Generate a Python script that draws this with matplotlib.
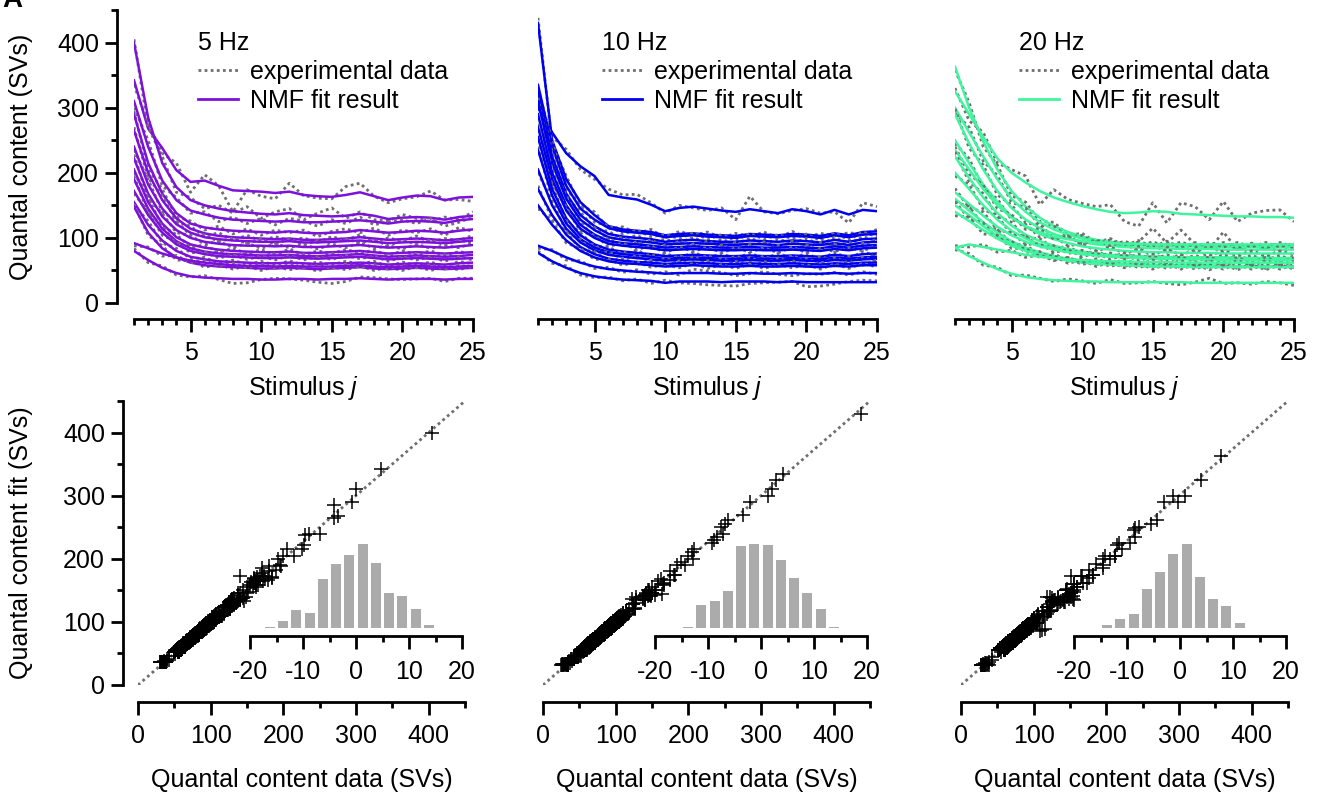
import matplotlib
matplotlib.use('Agg')
import matplotlib.pyplot as plt
from matplotlib.lines import Line2D
from matplotlib.ticker import MultipleLocator

plt.rcParams['font.family'] = ['Liberation Sans', 'DejaVu Sans']
plt.rcParams['mathtext.fontset'] = 'custom'
plt.rcParams['mathtext.rm'] = 'Liberation Sans'
plt.rcParams['mathtext.it'] = 'Liberation Sans:italic'
plt.rcParams['axes.unicode_minus'] = False

# ---- data ----
stim = list(range(1, 26))
freqs = ['5 Hz', '10 Hz', '20 Hz']
colors = ['#7D10DC', '#0000F0', '#3FF59E']

# NMF fit result per synapse, 5 Hz
fit_5hz = [
    [342, 268, 238, 204, 186, 188, 180, 173, 172, 171, 169, 171, 166, 164, 163, 166, 170, 164, 158, 162, 165, 164, 158, 162, 163],
    [400, 285, 215, 178, 158, 150, 145, 141, 139, 137, 136, 138, 135, 134, 133, 134, 137, 134, 129, 131, 132, 131, 128, 132, 134],
    [310, 240, 188, 158, 142, 136, 131, 128, 127, 126, 125, 126, 124, 124, 125, 126, 127, 125, 122, 125, 126, 125, 123, 127, 129],
    [290, 215, 168, 138, 122, 116, 113, 111, 110, 109, 108, 110, 108, 107, 108, 109, 112, 110, 108, 109, 111, 110, 108, 111, 113],
    [265, 200, 158, 130, 114, 107, 103, 101, 100, 99, 98, 99, 97, 97, 98, 99, 101, 99, 97, 98, 99, 98, 96, 98, 100],
    [240, 182, 145, 121, 108, 101, 98, 96, 95, 94, 94, 95, 93, 93, 94, 95, 96, 94, 92, 93, 94, 93, 92, 94, 96],
    [222, 168, 133, 112, 100, 94, 91, 89, 88, 88, 87, 88, 86, 86, 87, 88, 89, 87, 85, 86, 87, 86, 85, 87, 89],
    [205, 155, 122, 101, 90, 85, 82, 80, 79, 78, 78, 79, 77, 77, 78, 79, 80, 78, 76, 77, 78, 77, 76, 77, 78],
    [190, 145, 114, 95, 84, 79, 76, 75, 74, 73, 73, 74, 72, 72, 73, 74, 75, 73, 71, 72, 73, 72, 71, 72, 74],
    [172, 135, 108, 90, 80, 75, 72, 71, 70, 69, 69, 70, 69, 68, 69, 70, 71, 69, 67, 68, 69, 68, 67, 68, 69],
    [155, 120, 96, 80, 71, 67, 64, 63, 62, 61, 61, 62, 61, 60, 61, 61, 62, 61, 59, 60, 61, 60, 59, 61, 62],
    [148, 108, 84, 70, 62, 58, 56, 55, 54, 53, 53, 54, 53, 52, 53, 54, 55, 53, 52, 53, 54, 53, 52, 53, 54],
    [92, 84, 76, 70, 65, 62, 60, 58, 57, 57, 56, 57, 56, 56, 56, 57, 58, 56, 55, 56, 57, 56, 55, 56, 57],
    [80, 66, 54, 46, 41, 39, 38, 37, 37, 36, 36, 37, 37, 36, 37, 37, 38, 37, 36, 37, 37, 37, 36, 37, 37],
]
# experimental data, 5 Hz
exp_5hz = [
    [335, 275, 230, 215, 170, 197, 180, 140, 174, 164, 160, 184, 165, 161, 160, 179, 184, 164, 154, 160, 163, 172, 158, 159, 156],
    [405, 270, 225, 170, 162, 145, 150, 138, 148, 130, 140, 145, 128, 138, 146, 130, 140, 128, 126, 136, 130, 125, 132, 128, 140],
    [300, 250, 180, 162, 138, 140, 125, 132, 122, 130, 120, 130, 126, 118, 128, 122, 132, 120, 125, 128, 122, 130, 118, 124, 132],
    [295, 205, 175, 132, 126, 112, 118, 106, 114, 104, 112, 108, 112, 102, 110, 114, 108, 115, 104, 112, 108, 114, 104, 116, 110],
    [270, 192, 165, 125, 118, 102, 108, 96, 104, 95, 102, 96, 100, 93, 102, 96, 105, 95, 100, 95, 103, 94, 99, 96, 104],
    [235, 190, 140, 126, 104, 105, 94, 100, 91, 98, 90, 99, 89, 96, 92, 98, 93, 97, 88, 96, 91, 97, 89, 96, 93],
    [228, 160, 138, 108, 104, 90, 95, 85, 92, 84, 91, 85, 90, 83, 90, 85, 93, 84, 88, 83, 90, 84, 88, 85, 92],
    [200, 162, 118, 105, 86, 89, 78, 84, 76, 82, 74, 83, 74, 80, 76, 82, 77, 81, 73, 80, 75, 80, 73, 79, 75],
    [195, 138, 119, 91, 88, 75, 80, 71, 77, 70, 76, 71, 75, 69, 76, 71, 78, 70, 74, 69, 76, 70, 74, 70, 77],
    [168, 140, 104, 94, 77, 78, 69, 74, 67, 72, 66, 73, 66, 71, 67, 73, 68, 72, 64, 71, 66, 71, 64, 71, 66],
    [150, 126, 92, 84, 68, 70, 61, 66, 59, 64, 58, 65, 58, 63, 59, 64, 60, 64, 56, 63, 58, 63, 56, 64, 60],
    [152, 104, 88, 66, 65, 55, 59, 52, 57, 50, 56, 51, 55, 49, 56, 51, 57, 50, 55, 50, 56, 50, 55, 51, 57],
    [88, 86, 72, 73, 62, 65, 57, 61, 54, 60, 53, 59, 54, 58, 53, 60, 55, 59, 52, 58, 54, 59, 52, 58, 55],
    [84, 62, 57, 43, 40, 42, 36, 30, 31, 36, 38, 37, 35, 32, 30, 33, 40, 39, 37, 36, 37, 38, 33, 38, 38],
]

# NMF fit result, 10 Hz
fit_10hz = [
    [300, 262, 230, 210, 195, 166, 162, 159, 151, 141, 146, 148, 145, 142, 140, 144, 141, 138, 144, 141, 136, 143, 136, 143, 141],
    [430, 250, 190, 155, 135, 118, 113, 111, 109, 104, 106, 107, 105, 104, 103, 106, 105, 104, 106, 105, 103, 107, 104, 109, 110],
    [335, 240, 180, 145, 128, 115, 110, 108, 106, 101, 103, 104, 102, 101, 100, 103, 102, 101, 103, 102, 100, 104, 101, 105, 106],
    [325, 225, 168, 135, 118, 106, 102, 100, 98, 94, 96, 97, 95, 94, 94, 96, 95, 94, 96, 95, 93, 97, 94, 98, 99],
    [310, 215, 160, 128, 112, 101, 97, 95, 93, 90, 91, 92, 91, 90, 89, 91, 90, 89, 91, 90, 89, 92, 89, 93, 94],
    [290, 200, 150, 120, 105, 95, 92, 90, 88, 85, 86, 87, 86, 85, 85, 86, 85, 85, 86, 85, 84, 87, 85, 88, 89],
    [270, 190, 142, 114, 100, 91, 88, 86, 84, 81, 82, 83, 82, 81, 81, 82, 81, 81, 82, 81, 80, 83, 81, 84, 85],
    [255, 175, 130, 104, 90, 82, 79, 77, 75, 72, 73, 74, 73, 72, 72, 73, 72, 72, 73, 72, 71, 74, 72, 75, 76],
    [235, 165, 122, 98, 85, 78, 75, 73, 71, 68, 69, 70, 69, 68, 68, 69, 68, 68, 69, 68, 67, 70, 68, 70, 71],
    [205, 150, 114, 93, 81, 74, 71, 69, 67, 65, 66, 67, 66, 65, 65, 66, 65, 65, 66, 65, 64, 66, 65, 67, 68],
    [175, 135, 105, 86, 75, 68, 65, 63, 62, 60, 61, 62, 61, 60, 60, 61, 60, 60, 61, 60, 59, 61, 60, 62, 62],
    [150, 120, 96, 80, 70, 64, 61, 60, 58, 56, 57, 58, 57, 56, 56, 57, 56, 56, 57, 56, 55, 57, 56, 58, 58],
    [88, 80, 70, 62, 56, 52, 50, 48, 47, 45, 46, 46, 46, 45, 45, 46, 45, 45, 46, 45, 45, 46, 45, 46, 46],
    [77, 64, 54, 46, 41, 38, 36, 35, 34, 31, 33, 33, 33, 32, 33, 33, 33, 32, 33, 32, 32, 32, 32, 32, 32],
]
exp_10hz = [
    [310, 255, 236, 205, 190, 175, 166, 167, 154, 138, 150, 146, 142, 146, 128, 164, 140, 137, 142, 145, 138, 140, 123, 154, 148],
    [438, 245, 195, 150, 140, 114, 117, 107, 113, 100, 110, 104, 109, 100, 107, 102, 109, 100, 110, 101, 107, 103, 108, 105, 113],
    [330, 248, 175, 150, 124, 119, 106, 112, 102, 105, 99, 108, 98, 105, 96, 107, 98, 105, 99, 106, 96, 108, 97, 109, 102],
    [320, 232, 163, 140, 114, 110, 98, 104, 94, 98, 92, 101, 91, 98, 90, 100, 91, 98, 92, 99, 89, 101, 90, 102, 95],
    [315, 208, 165, 124, 116, 97, 101, 91, 97, 86, 95, 88, 95, 86, 93, 87, 94, 85, 95, 86, 93, 88, 93, 89, 98],
    [285, 206, 146, 124, 101, 99, 88, 94, 84, 89, 82, 91, 82, 89, 81, 90, 81, 89, 82, 89, 80, 91, 81, 92, 85],
    [275, 184, 147, 110, 104, 87, 92, 82, 88, 77, 86, 79, 86, 77, 85, 78, 85, 77, 86, 77, 84, 79, 85, 80, 89],
    [250, 182, 126, 108, 87, 86, 75, 81, 71, 76, 69, 78, 69, 76, 68, 77, 68, 76, 69, 76, 67, 78, 68, 79, 72],
    [240, 158, 127, 94, 89, 74, 79, 69, 75, 64, 73, 66, 73, 64, 72, 65, 72, 64, 73, 64, 71, 66, 72, 66, 75],
    [200, 156, 110, 97, 78, 78, 68, 73, 63, 69, 62, 71, 62, 69, 61, 70, 61, 69, 62, 69, 60, 70, 61, 71, 64],
    [180, 128, 110, 82, 79, 64, 69, 59, 66, 56, 65, 58, 65, 56, 64, 57, 64, 56, 65, 56, 63, 57, 64, 58, 66],
    [145, 126, 92, 84, 67, 67, 58, 63, 55, 59, 54, 61, 53, 59, 53, 60, 53, 59, 54, 59, 52, 60, 53, 61, 55],
    [84, 82, 66, 65, 53, 55, 47, 51, 44, 48, 43, 52, 49, 47, 42, 45, 48, 44, 42, 45, 44, 47, 43, 48, 44],
    [80, 61, 57, 43, 39, 40, 34, 37, 30, 35, 31, 30, 28, 27, 26, 30, 31, 32, 33, 25, 26, 29, 33, 35, 34],
]

# NMF fit result, 20 Hz
fit_20hz = [
    [325, 290, 255, 222, 200, 185, 172, 162, 155, 149, 144, 140, 138, 139, 141, 140, 137, 136, 135, 134, 133, 133, 132, 132, 131],
    [363, 300, 248, 205, 172, 148, 131, 118, 109, 102, 97, 94, 92, 91, 90, 90, 89, 89, 88, 88, 88, 88, 88, 88, 88],
    [300, 262, 225, 190, 160, 140, 124, 113, 105, 99, 95, 92, 90, 89, 88, 88, 87, 87, 86, 86, 86, 86, 86, 86, 86],
    [290, 245, 205, 172, 146, 128, 115, 106, 99, 94, 90, 88, 86, 85, 84, 84, 83, 83, 83, 82, 82, 82, 82, 82, 82],
    [250, 215, 182, 155, 133, 117, 106, 98, 92, 87, 84, 82, 80, 79, 78, 78, 77, 77, 77, 76, 76, 76, 76, 76, 76],
    [235, 205, 175, 150, 131, 118, 109, 102, 98, 95, 93, 92, 91, 91, 90, 90, 90, 90, 90, 90, 90, 90, 90, 90, 90],
    [225, 192, 162, 138, 119, 105, 95, 88, 83, 79, 76, 74, 73, 72, 71, 71, 70, 70, 70, 70, 69, 69, 69, 69, 69],
    [200, 175, 150, 128, 111, 99, 90, 84, 80, 77, 75, 73, 72, 71, 71, 70, 70, 70, 70, 70, 69, 69, 69, 69, 69],
    [170, 152, 134, 117, 104, 94, 87, 82, 78, 75, 73, 71, 70, 69, 68, 68, 67, 67, 67, 66, 66, 66, 66, 66, 66],
    [160, 142, 124, 108, 95, 85, 78, 72, 68, 65, 63, 61, 60, 59, 59, 58, 58, 58, 58, 57, 57, 57, 57, 57, 57],
    [150, 135, 118, 103, 91, 82, 75, 70, 66, 63, 61, 60, 59, 58, 57, 57, 57, 56, 56, 56, 56, 56, 56, 56, 56],
    [140, 126, 112, 99, 88, 80, 74, 69, 65, 62, 60, 59, 58, 57, 56, 56, 56, 55, 55, 55, 55, 55, 55, 55, 55],
    [85, 90, 86, 82, 78, 74, 71, 69, 67, 66, 65, 64, 64, 63, 63, 63, 62, 62, 62, 62, 62, 62, 62, 62, 62],
    [85, 72, 62, 52, 45, 40, 37, 35, 34, 33, 33, 32, 32, 32, 32, 32, 32, 31, 31, 31, 31, 31, 31, 31, 31],
]
exp_20hz = [
    [330, 280, 262, 215, 205, 195, 151, 174, 159, 153, 148, 151, 125, 118, 154, 123, 154, 148, 128, 156, 125, 138, 142, 143, 125],
    [358, 308, 240, 212, 165, 155, 125, 124, 104, 107, 93, 99, 88, 96, 86, 95, 85, 93, 84, 93, 84, 92, 84, 93, 86],
    [292, 270, 218, 196, 155, 146, 119, 118, 101, 104, 91, 97, 86, 94, 115, 92, 112, 90, 82, 109, 82, 90, 83, 91, 84],
    [298, 238, 212, 166, 151, 123, 120, 101, 103, 90, 94, 84, 90, 81, 88, 80, 87, 79, 87, 78, 86, 78, 86, 79, 85],
    [245, 222, 176, 160, 128, 121, 101, 102, 88, 91, 80, 86, 76, 83, 74, 82, 74, 81, 73, 80, 73, 80, 72, 80, 74],
    [240, 198, 181, 145, 136, 113, 114, 98, 102, 91, 97, 88, 95, 87, 94, 86, 94, 86, 93, 86, 93, 86, 93, 86, 92],
    [232, 186, 168, 133, 124, 100, 99, 84, 87, 75, 80, 70, 77, 68, 75, 67, 74, 66, 74, 66, 73, 66, 73, 65, 72],
    [195, 182, 144, 133, 106, 103, 86, 88, 76, 81, 71, 77, 68, 75, 67, 74, 67, 73, 66, 74, 66, 73, 66, 73, 65],
    [176, 146, 140, 112, 108, 90, 91, 78, 82, 71, 77, 67, 74, 65, 72, 64, 71, 63, 71, 62, 70, 62, 70, 62, 69],
    [155, 148, 119, 113, 91, 89, 74, 76, 64, 69, 59, 65, 56, 63, 55, 62, 54, 62, 54, 61, 53, 61, 53, 61, 54],
    [156, 129, 123, 98, 95, 78, 79, 66, 70, 59, 65, 56, 63, 54, 61, 53, 61, 52, 60, 52, 60, 52, 60, 52, 59],
    [134, 132, 106, 104, 84, 84, 70, 73, 61, 66, 56, 63, 54, 61, 52, 60, 52, 59, 51, 59, 51, 59, 51, 59, 52],
    [88, 86, 90, 78, 81, 70, 74, 65, 70, 62, 68, 60, 67, 59, 66, 59, 65, 58, 65, 58, 65, 58, 65, 58, 64],
    [82, 76, 58, 55, 42, 43, 38, 33, 37, 34, 30, 36, 30, 31, 33, 30, 28, 32, 38, 30, 31, 29, 33, 31, 27],
]

# residual histograms (inset), bin centres and counts
hist_centers_5hz = [-16.25, -13.75, -11.25, -8.75, -6.25, -3.75, -1.25, 1.25, 3.75, 6.25, 8.75, 11.25, 13.75]
hist_counts_5hz = [1, 7, 18, 15, 50, 65, 74, 85, 66, 35, 32, 19, 3]
hist_centers_10hz = [-13.75, -11.25, -8.75, -6.25, -3.75, -1.25, 1.25, 3.75, 6.25, 8.75, 11.25, 13.75]
hist_counts_10hz = [1, 23, 27, 37, 82, 84, 83, 68, 50, 35, 19, 1]
hist_centers_20hz = [-13.75, -11.25, -8.75, -6.25, -3.75, -1.25, 1.25, 3.75, 6.25, 8.75, 11.25]
hist_counts_20hz = [3, 9, 14, 39, 56, 74, 84, 51, 29, 22, 5]

fits = [fit_5hz, fit_10hz, fit_20hz]
exps = [exp_5hz, exp_10hz, exp_20hz]
h_centers = [hist_centers_5hz, hist_centers_10hz, hist_centers_20hz]
h_counts = [hist_counts_5hz, hist_counts_10hz, hist_counts_20hz]

# ---- layout in pixels ----
W, H = 1323, 800
def rect(l, t, r, b):
    return [l / W, 1 - b / H, (r - l) / W, (b - t) / H]

top_boxes = [(134, 10, 473, 303), (538, 10, 877, 303), (955, 10, 1294, 303)]
bot_boxes = [(138, 401, 465, 685), (543, 401, 870, 685), (961, 401, 1288, 685)]
ins_boxes = [(250, 544, 462, 628), (655, 544, 867, 628), (1074, 544, 1286, 628)]

FS = 18
LW = 2.0
grey = '#6F6F6F'
dot = (0, (1, 1.2))

def style(ax, left=True, xpad=7):
    for s in ['top', 'right']:
        ax.spines[s].set_visible(False)
    for s in ['left', 'bottom']:
        ax.spines[s].set_linewidth(LW)
    if not left:
        ax.spines['left'].set_visible(False)
        ax.tick_params(axis='y', which='both', left=False, labelleft=False)
    ax.tick_params(which='major', length=9, width=LW, labelsize=FS, direction='out')
    ax.tick_params(which='minor', length=4.5, width=LW, direction='out')
    ax.tick_params(axis='x', which='major', pad=xpad)
    ax.tick_params(axis='y', which='major', pad=4)

fig = plt.figure(figsize=(W / 100, H / 100), dpi=100)

for k in range(3):
    # top: traces
    ax = fig.add_axes(rect(*top_boxes[k]))
    for e, f in zip(exps[k], fits[k]):
        ax.plot(stim, e, color=grey, ls=dot, lw=2)
        ax.plot(stim, f, color=colors[k], lw=1.8)
    ax.set_xlim(1, 25)
    ax.set_ylim(0, 450)
    ax.xaxis.set_major_locator(MultipleLocator(5))
    ax.xaxis.set_minor_locator(MultipleLocator(1))
    ax.yaxis.set_major_locator(MultipleLocator(100))
    ax.yaxis.set_minor_locator(MultipleLocator(50))
    style(ax, left=(k == 0))
    ax.spines['bottom'].set_position(('outward', 11.5))
    ax.spines['left'].set_position(('outward', 12.2))
    handles = [Line2D([], [], color=grey, ls=dot, lw=2),
               Line2D([], [], color=colors[k], lw=2)]
    ax.legend(handles, ['experimental data', 'NMF fit result'], title=freqs[k],
              alignment='left', frameon=False, loc='upper left',
              bbox_to_anchor=(0.19, 0.93), borderaxespad=0, borderpad=0,
              handlelength=1.6, handletextpad=0.45, labelspacing=0.2,
              fontsize=FS, title_fontsize=FS)
    cx = (top_boxes[k][0] + top_boxes[k][2]) / 2
    fig.text(cx / W, 1 - 388 / H, 'Stimulus $\\it{j}$', ha='center', va='center', fontsize=FS)

    # bottom: fit vs data scatter
    ax2 = fig.add_axes(rect(*bot_boxes[k]))
    ax2.plot([0, 450], [0, 450], color=grey, ls=dot, lw=2, zorder=1)
    xs = [v for tr in exps[k] for v in tr]
    ys = [v for tr in fits[k] for v in tr]
    ax2.plot(xs, ys, ls='none', marker='+', ms=10, mew=1.1, color='black', zorder=2)
    ax2.set_xlim(0, 450)
    ax2.set_ylim(0, 450)
    ax2.xaxis.set_major_locator(MultipleLocator(100))
    ax2.xaxis.set_minor_locator(MultipleLocator(50))
    ax2.yaxis.set_major_locator(MultipleLocator(100))
    ax2.yaxis.set_minor_locator(MultipleLocator(50))
    style(ax2, left=(k == 0))
    ax2.spines['bottom'].set_position(('outward', 12.2))
    ax2.spines['left'].set_position(('outward', 10.8))
    cx = (bot_boxes[k][0] + bot_boxes[k][2]) / 2
    fig.text(cx / W, 1 - 780 / H, 'Quantal content data (SVs)', ha='center', va='center', fontsize=FS)

    # inset: residual histogram
    ax3 = fig.add_axes(rect(*ins_boxes[k]))
    ax3.patch.set_alpha(0)
    ax3.bar(h_centers[k], h_counts[k], width=1.9, color='#ABABAB', linewidth=0)
    ax3.set_xlim(-20, 20)
    ax3.set_ylim(0, max(h_counts[k]))
    ax3.xaxis.set_major_locator(MultipleLocator(10))
    ax3.xaxis.set_minor_locator(MultipleLocator(5))
    style(ax3, left=False, xpad=8)
    ax3.spines['bottom'].set_position(('outward', 5.8))

fig.text(21 / W, 1 - 157 / H, 'Quantal content (SVs)', rotation=90, ha='center', va='center', fontsize=FS)
fig.text(21 / W, 1 - 543 / H, 'Quantal content fit (SVs)', rotation=90, ha='center', va='center', fontsize=FS)
fig.text(22 / W, 1 - 7 / H, 'A', ha='right', va='baseline', fontsize=20, fontweight='bold')

fig.savefig('out.png', dpi=100)
